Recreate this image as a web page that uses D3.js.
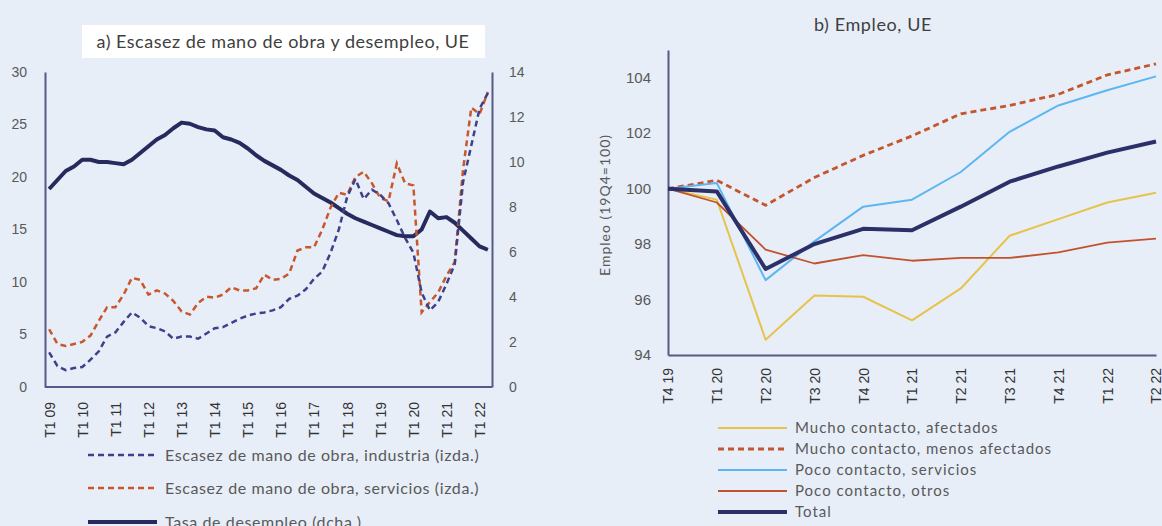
<!DOCTYPE html>
<html>
<head>
<meta charset="utf-8">
<script src="https://cdn.jsdelivr.net/npm/d3@7"></script>
<style>
  body { margin: 0; background: #e7eef8; }
  svg { display: block; font-family: Lato, "Open Sans", sans-serif; }
</style>
</head>
<body>
<svg id="chart" width="1162" height="526"></svg>
<script>
// ---- data: panel a) quarterly, T1 09 .. T2 22
var years = d3.range(9, 23);
var quarters = [];
years.forEach(function (y) {
  for (var q = 1; q <= 4; q++) {
    if (y === 22 && q > 2) break;
    quarters.push("T" + q + " " + (y < 10 ? "0" + y : "" + y));
  }
});
var quarterTicks = quarters.filter(function (d) { return d.indexOf("T1") === 0; });

// labour shortage, industry (left axis, %)
var shortageIndustry = [3.3, 2.0, 1.6, 1.8, 1.9, 2.6, 3.4, 4.8, 5.2, 6.2, 7.1, 6.6, 5.8, 5.6,
  5.3, 4.6, 4.8, 4.8, 4.6, 5.1, 5.6, 5.7, 6.1, 6.5, 6.8, 7.0, 7.1, 7.3, 7.6, 8.4, 8.7, 9.3,
  10.3, 11.0, 12.8, 15.0, 18.1, 19.8, 17.9, 18.8, 18.3, 17.5, 15.9, 14.2, 12.8, 9.0, 7.3,
  8.1, 9.8, 11.7, 19.5, 23.0, 26.5, 28.0];
// labour shortage, services (left axis, %)
var shortageServices = [5.5, 4.1, 3.9, 4.1, 4.3, 4.9, 6.3, 7.6, 7.6, 8.8, 10.4, 10.2, 8.8, 9.2,
  8.9, 8.2, 7.2, 6.9, 8.0, 8.6, 8.5, 8.8, 9.5, 9.2, 9.2, 9.4, 10.7, 10.2, 10.3, 10.8, 13.0,
  13.3, 13.3, 15.0, 17.1, 18.5, 18.3, 20.0, 20.5, 19.4, 18.0, 17.7, 21.3, 19.4, 19.2, 7.1,
  8.1, 9.0, 10.6, 11.9, 20.7, 26.6, 26.0, 28.1];
// unemployment rate (right axis, %)
var unemployment = [8.8, 9.2, 9.6, 9.8, 10.1, 10.1, 10.0, 10.0, 9.95, 9.9, 10.1, 10.4, 10.7,
  11.0, 11.2, 11.5, 11.75, 11.7, 11.55, 11.45, 11.4, 11.1, 11.0, 10.85, 10.6, 10.3, 10.05,
  9.85, 9.65, 9.4, 9.2, 8.9, 8.6, 8.4, 8.2, 7.95, 7.7, 7.5, 7.35, 7.2, 7.05, 6.9, 6.75, 6.7,
  6.7, 7.0, 7.8, 7.5, 7.55, 7.3, 6.95, 6.6, 6.25, 6.1];
var leftTicks = [0, 5, 10, 15, 20, 25, 30];
var rightTicks = [0, 2, 4, 6, 8, 10, 12, 14];

// ---- data: panel b) employment index 19Q4 = 100
var empQuarters = ["T4 19", "T1 20", "T2 20", "T3 20", "T4 20", "T1 21", "T2 21", "T3 21", "T4 21", "T1 22", "T2 22"];
var muchoAfectados = [100, 99.6, 94.55, 96.15, 96.1, 95.25, 96.4, 98.3, 98.9, 99.5, 99.85];
var muchoMenos = [100, 100.3, 99.4, 100.4, 101.2, 101.9, 102.7, 103.0, 103.4, 104.1, 104.5];
var pocoServicios = [100, 100.2, 96.7, 98.1, 99.35, 99.6, 100.6, 102.05, 103.0, 103.55, 104.05];
var pocoOtros = [100, 99.5, 97.8, 97.3, 97.6, 97.4, 97.5, 97.5, 97.7, 98.05, 98.2];
var total = [100, 99.9, 97.1, 98.0, 98.55, 98.5, 99.35, 100.25, 100.8, 101.3, 101.7];
var empTicks = [94, 96, 98, 100, 102, 104];

var axisColor = "#555a88", labelColor = "#595959";
var svg = d3.select("#chart");
svg.append("rect").attr("width", 1162).attr("height", 526).attr("fill", "#e7eef8");

function styleAxis(g, size) {
  g.select(".domain").attr("stroke", axisColor).attr("stroke-width", 2);
  g.selectAll("text").attr("fill", labelColor).style("font-size", size + "px");
}

// ================= panel a =================
var xA = d3.scalePoint().domain(quarters).range([45, 492]).padding(0.5);
var yA = d3.scaleLinear().domain([0, 30]).range([387, 72]);
var yA2 = d3.scaleLinear().domain([0, 14]).range([387, 72]);

svg.append("rect").attr("x", 82).attr("y", 25).attr("width", 403).attr("height", 33).attr("fill", "#fff");
svg.append("text").attr("x", 283).attr("y", 48).attr("text-anchor", "middle")
  .attr("fill", "#404040").style("font-size", "18px").style("letter-spacing", "0.5px")
  .text("a) Escasez de mano de obra y desempleo, UE");

svg.append("g").attr("transform", "translate(45,0)")
  .call(d3.axisLeft(yA).tickValues(leftTicks).tickSize(0).tickPadding(18))
  .call(styleAxis, 14);
svg.append("g").attr("transform", "translate(492,0)")
  .call(d3.axisRight(yA2).tickValues(rightTicks).tickSize(0).tickPadding(17))
  .call(styleAxis, 14);
var xAxisA = svg.append("g").attr("transform", "translate(0,387)")
  .call(d3.axisBottom(xA).tickValues(quarterTicks).tickSize(0).tickSizeOuter(0))
  .call(styleAxis, 14);
xAxisA.select(".domain").attr("d", "M45,0H492");
xAxisA.selectAll("text").attr("transform", "rotate(-90)").attr("text-anchor", "end")
  .attr("x", -15).attr("y", 0).attr("dy", "0.35em").attr("fill", "#333");

var lineL = d3.line().x(function (d, i) { return xA(quarters[i]); }).y(function (d) { return yA(d); });
var lineR = d3.line().x(function (d, i) { return xA(quarters[i]); }).y(function (d) { return yA2(d); });

svg.append("path").datum(unemployment).attr("d", lineR).attr("fill", "none")
  .attr("stroke", "#262a5c").attr("stroke-width", 4).attr("stroke-linejoin", "round");
svg.append("path").datum(shortageServices).attr("d", lineL).attr("fill", "none")
  .attr("stroke", "#c8582c").attr("stroke-width", 2.5).attr("stroke-dasharray", "6,4");
svg.append("path").datum(shortageIndustry).attr("d", lineL).attr("fill", "none")
  .attr("stroke", "#3d418a").attr("stroke-width", 2.5).attr("stroke-dasharray", "6,4");

var legendA = [
  {label: "Escasez de mano de obra, industria (izda.)", color: "#3d418a", w: 2.5, dash: "6,4", y: 455},
  {label: "Escasez de mano de obra, servicios (izda.)", color: "#c8582c", w: 2.5, dash: "6,4", y: 488},
  {label: "Tasa de desempleo (dcha.)", color: "#262a5c", w: 4, dash: null, y: 522}
];
var lgA = svg.append("g").selectAll("g").data(legendA).join("g");
lgA.append("line").attr("x1", 88).attr("x2", 157).attr("y1", function (d) { return d.y; }).attr("y2", function (d) { return d.y; })
  .attr("stroke", function (d) { return d.color; }).attr("stroke-width", function (d) { return d.w; })
  .attr("stroke-dasharray", function (d) { return d.dash; });
lgA.append("text").attr("x", 165).attr("y", function (d) { return d.y; }).attr("dy", "0.35em")
  .attr("fill", labelColor).style("font-size", "16px").style("letter-spacing", "0.6px")
  .text(function (d) { return d.label; });

// ================= panel b =================
var xB = d3.scalePoint().domain(empQuarters).range([668, 1156]);
var yB = d3.scaleLinear().domain([94, 105]).range([355, 50]);

svg.append("text").attr("x", 873).attr("y", 31).attr("text-anchor", "middle")
  .attr("fill", "#404040").style("font-size", "18px").style("letter-spacing", "0.6px").text("b) Empleo, UE");

svg.append("g").attr("transform", "translate(668,0)")
  .call(d3.axisLeft(yB).tickValues(empTicks).tickSize(0).tickPadding(17))
  .call(styleAxis, 15);
var xAxisB = svg.append("g").attr("transform", "translate(0,355)")
  .call(d3.axisBottom(xB).tickSize(0).tickSizeOuter(0))
  .call(styleAxis, 14);
xAxisB.selectAll("text").attr("transform", "rotate(-90)").attr("text-anchor", "end")
  .attr("x", -13).attr("y", 0).attr("dy", "0.35em").attr("fill", "#333");

svg.append("text").attr("transform", "translate(605,205) rotate(-90)").attr("text-anchor", "middle")
  .attr("dy", "0.35em").attr("fill", labelColor).style("font-size", "14px").style("letter-spacing", "1px")
  .text("Empleo (19Q4=100)");

var seriesB = [
  {label: "Mucho contacto, afectados", values: muchoAfectados, color: "#e6c34a", w: 2, dash: null},
  {label: "Mucho contacto, menos afectados", values: muchoMenos, color: "#c5552c", w: 2.8, dash: "6,4"},
  {label: "Poco contacto, servicios", values: pocoServicios, color: "#5cb6f2", w: 2, dash: null},
  {label: "Poco contacto, otros", values: pocoOtros, color: "#c0532e", w: 1.8, dash: null},
  {label: "Total", values: total, color: "#2c3068", w: 4, dash: null}
];
var lineB = d3.line().x(function (d, i) { return xB(empQuarters[i]); }).y(function (d) { return yB(d); });
svg.append("g").selectAll("path").data(seriesB).join("path")
  .attr("d", function (d) { return lineB(d.values); }).attr("fill", "none")
  .attr("stroke", function (d) { return d.color; }).attr("stroke-width", function (d) { return d.w; })
  .attr("stroke-dasharray", function (d) { return d.dash; }).attr("stroke-linejoin", "round");

var lgB = svg.append("g").selectAll("g").data(seriesB).join("g")
  .attr("transform", function (d, i) { return "translate(0," + (428 + i * 21) + ")"; });
lgB.append("line").attr("x1", 718).attr("x2", 787)
  .attr("stroke", function (d) { return d.color; }).attr("stroke-width", function (d) { return d.w; })
  .attr("stroke-dasharray", function (d) { return d.dash; });
lgB.append("text").attr("x", 795).attr("dy", "0.35em").attr("fill", labelColor)
  .style("font-size", "15px").style("letter-spacing", "1px").text(function (d) { return d.label; });
</script>
</body>
</html>
